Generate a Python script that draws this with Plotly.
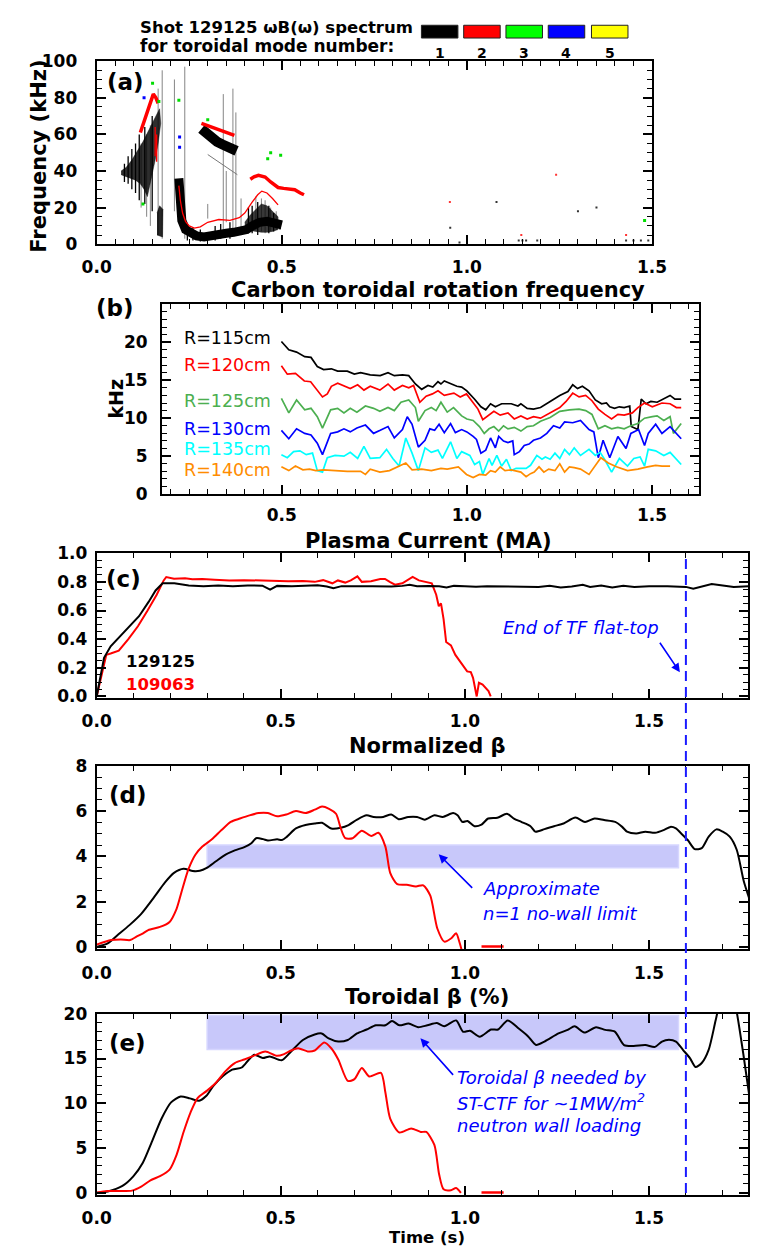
import plotly.graph_objects as go

W, H = 765, 1257
def px(x): return x / W
def py(y): return 1 - y / H

# ---------------- DATA ----------------
# (a) spectrogram features (time s, frequency kHz)
a_fan_t = [0.066, 0.08, 0.095, 0.11, 0.125, 0.14, 0.152, 0.162, 0.170, 0.173, 0.166, 0.158, 0.150, 0.143, 0.137, 0.128, 0.118, 0.105, 0.09, 0.075, 0.066]
a_fan_f = [40, 42, 46, 51, 56, 62, 67, 71, 74, 66, 55, 46, 38, 30, 26, 30, 33, 35, 36, 37, 38]
a_blob_t = [0.163, 0.178, 0.179, 0.170, 0.163]
a_blob_f = [5, 4, 19, 21, 17]
a_low_t = [0.222, 0.225, 0.23, 0.24, 0.255, 0.27, 0.29, 0.31, 0.33, 0.35, 0.37, 0.39, 0.405, 0.42, 0.44, 0.46, 0.48, 0.50]
a_low_f = [36, 22, 13, 8, 6, 4.5, 4, 4.3, 5.2, 6, 6.5, 7, 8, 10, 12, 12.5, 11.5, 10.5]
a_fuzz_t = [0.40, 0.415, 0.43, 0.445, 0.46, 0.475, 0.49, 0.49, 0.475, 0.46, 0.445, 0.43, 0.415, 0.40]
a_fuzz_f = [12, 16, 19, 22, 21, 18, 15, 8, 7, 6.5, 6.5, 7, 7.5, 8]
a_up_t = [0.283, 0.295, 0.31, 0.325, 0.34, 0.355, 0.37, 0.378]
a_up_f = [63, 60.5, 58, 56, 54.5, 53, 51.5, 51]
a_faint_t = [0.30, 0.33, 0.36, 0.38]
a_faint_f = [49, 45, 41, 38]
a_spike_t = [0.120, 0.135, 0.145, 0.166, 0.177, 0.21, 0.238, 0.30, 0.342, 0.35, 0.368, 0.376, 0.39, 0.43, 0.445, 0.455, 0.47, 0.485]
a_spike_lo = [20, 15, 10, 5, 3, 18, 3, 14, 8, 12, 6, 8, 5, 8, 7, 6, 7, 8]
a_spike_hi = [55, 60, 65, 85, 95, 90, 97, 22, 82, 40, 85, 72, 25, 26, 25, 24, 20, 18]
a_streak_t = [0.075, 0.085, 0.095, 0.105, 0.115, 0.13, 0.15, 0.245, 0.26, 0.28, 0.32, 0.335, 0.36, 0.41, 0.42, 0.435, 0.465, 0.478, 0.495]
a_streak_lo = [34, 33, 30, 28, 24, 22, 18, 2, 2, 1.5, 2, 3, 3, 6, 6, 5, 6, 7, 8]
a_streak_hi = [44, 48, 52, 55, 60, 64, 70, 10, 9, 8, 10, 11, 12, 20, 21, 23, 21, 17, 13]
a_red1_t = [0.118, 0.128, 0.138, 0.146, 0.153, 0.16, 0.166]
a_red1_f = [61, 67, 74, 79, 82, 80, 77]
a_red2_t = [0.283, 0.30, 0.32, 0.34, 0.355, 0.372]
a_red2_f = [66, 64.8, 63.5, 62, 61, 59.5]
a_red3_t = [0.222, 0.226, 0.232, 0.24, 0.25, 0.264, 0.28, 0.30, 0.33, 0.36, 0.385, 0.40, 0.42, 0.435, 0.446, 0.46, 0.475, 0.49]
a_red3_f = [32, 24, 17, 12.5, 10, 8.8, 9.5, 12, 13.5, 13, 14.5, 17, 23, 27, 29, 28, 25, 21.5]
a_red4_t = [0.415, 0.425, 0.437, 0.455, 0.47, 0.49, 0.505, 0.52, 0.535, 0.55, 0.56]
a_red4_f = [35.5, 36.8, 37.6, 36.7, 34, 31, 30.5, 30.2, 29.8, 28, 27]
a_redspike_t = [0.158, 0.162]
a_redspike_lo = [48, 45]
a_redspike_hi = [64, 60]
a_green_t = [0.151, 0.168, 0.125, 0.222, 0.462, 0.47, 0.497, 0.30, 1.48]
a_green_f = [88, 78, 22, 78.6, 46.7, 50, 48.6, 68, 13]
a_blue_t = [0.128, 0.224, 0.224]
a_blue_f = [80, 58.6, 53]
a_speck_t = [0.955, 0.98, 1.14, 1.15, 1.16, 1.19, 1.43, 1.45, 1.47, 1.49, 1.30, 1.35, 1.08]
a_speck_f = [9, 1, 2, 2, 2, 2, 2, 2, 2, 2, 18, 20, 23]
a_rspeck_t = [0.954, 1.147, 1.241, 1.43]
a_rspeck_f = [23, 5, 38, 5]

# (b) carbon toroidal rotation frequency (time s, kHz)
b_labels = ["R=115cm", "R=120cm", "R=125cm", "R=130cm", "R=135cm", "R=140cm"]
b_r115 = [(0.499,20.1),(0.519,19.0),(0.54,18.7),(0.562,18.1),(0.579,18.0),(0.596,16.8),(0.613,16.4),(0.634,16.5),(0.651,16.2),(0.677,16.2),(0.696,15.8),(0.713,16.0),(0.739,15.7),(0.766,15.6),(0.787,16.0),(0.804,15.6),(0.826,15.7),(0.843,15.6),(0.861,14.5),(0.878,13.8),(0.895,14.3),(0.908,14.1),(0.922,14.8),(0.93,14.5),(0.939,14.9),(0.956,14.5),(0.973,14.2),(0.986,14.1),(1.0,13.6),(1.021,12.5),(1.038,11.5),(1.051,11.1),(1.064,11.9),(1.077,11.5),(1.094,11.9),(1.12,11.9),(1.138,11.6),(1.146,11.9),(1.163,11.3),(1.18,11.2),(1.199,11.4),(1.225,12.2),(1.251,13.0),(1.273,13.5),(1.286,14.4),(1.299,13.9),(1.312,14.2),(1.33,13.6),(1.347,12.4),(1.364,11.9),(1.377,12.0),(1.386,11.5),(1.399,11.3),(1.412,11.5),(1.425,11.4),(1.44,11.6),(1.444,8.9),(1.462,8.5),(1.471,12.5),(1.484,11.9),(1.497,12.2),(1.514,12.1),(1.532,12.6),(1.549,13.0),(1.562,12.5),(1.579,12.5)]
b_r120 = [(0.499,16.9),(0.515,15.8),(0.537,15.9),(0.561,14.9),(0.578,14.8),(0.593,13.8),(0.61,12.8),(0.623,13.2),(0.634,14.2),(0.651,14.6),(0.668,14.3),(0.685,13.9),(0.705,14.4),(0.722,13.7),(0.739,14.2),(0.765,13.7),(0.787,14.5),(0.804,13.7),(0.826,14.3),(0.843,14.0),(0.856,14.3),(0.873,12.1),(0.89,12.9),(0.907,13.2),(0.922,13.6),(0.939,13.0),(0.965,13.3),(0.982,12.8),(0.999,13.2),(1.012,12.3),(1.03,11.2),(1.043,9.8),(1.056,10.3),(1.073,10.9),(1.09,10.4),(1.111,10.7),(1.128,9.9),(1.146,10.3),(1.163,9.9),(1.18,10.2),(1.199,10.0),(1.225,10.7),(1.251,11.4),(1.268,12.2),(1.286,13.3),(1.303,12.8),(1.321,13.0),(1.338,12.3),(1.355,11.2),(1.373,10.5),(1.391,9.9),(1.408,10.5),(1.425,10.4),(1.447,10.7),(1.462,11.4),(1.48,12.0),(1.501,11.5),(1.527,12.0),(1.549,11.9),(1.566,11.4),(1.579,11.4)]
b_r125 = [(0.499,12.6),(0.519,10.7),(0.54,12.4),(0.562,11.1),(0.579,11.3),(0.596,10.2),(0.61,8.7),(0.632,11.1),(0.651,11.3),(0.668,10.7),(0.685,11.3),(0.703,10.8),(0.726,11.6),(0.748,11.3),(0.765,10.9),(0.787,11.4),(0.804,11.0),(0.822,12.1),(0.843,12.4),(0.861,11.4),(0.869,9.6),(0.887,11.0),(0.904,11.4),(0.917,11.0),(0.93,12.1),(0.947,10.8),(0.964,11.4),(0.986,10.3),(1.0,9.9),(1.017,9.7),(1.034,8.9),(1.047,8.0),(1.06,8.6),(1.073,8.9),(1.086,8.3),(1.099,9.0),(1.111,8.6),(1.128,8.8),(1.146,8.3),(1.163,8.9),(1.18,9.0),(1.199,9.6),(1.225,10.1),(1.251,10.9),(1.277,11.1),(1.303,11.2),(1.321,11.0),(1.338,10.5),(1.355,8.6),(1.373,9.0),(1.391,8.6),(1.408,8.8),(1.425,8.6),(1.443,9.0),(1.462,9.3),(1.48,10.0),(1.501,10.2),(1.514,10.3),(1.532,9.7),(1.549,10.2),(1.558,8.0),(1.579,9.3)]
b_r130 = [(0.499,8.4),(0.519,7.3),(0.54,8.6),(0.562,8.0),(0.579,7.8),(0.596,6.7),(0.61,5.2),(0.632,8.0),(0.651,8.2),(0.668,8.6),(0.685,8.2),(0.703,8.7),(0.726,9.1),(0.748,8.0),(0.766,8.4),(0.787,8.9),(0.804,7.4),(0.826,8.5),(0.839,10.2),(0.852,9.2),(0.869,6.2),(0.887,7.1),(0.9,8.6),(0.913,8.4),(0.925,9.2),(0.939,8.1),(0.956,9.3),(0.969,8.1),(0.986,8.5),(1.0,8.2),(1.017,7.6),(1.026,7.2),(1.038,5.4),(1.051,5.8),(1.064,7.4),(1.077,6.1),(1.086,7.6),(1.099,7.0),(1.111,6.8),(1.124,7.0),(1.128,5.2),(1.142,5.6),(1.155,6.4),(1.168,6.6),(1.18,7.1),(1.199,7.4),(1.216,8.0),(1.234,9.0),(1.251,8.7),(1.264,9.5),(1.286,9.4),(1.307,9.7),(1.33,8.5),(1.343,8.2),(1.355,4.8),(1.368,7.1),(1.386,4.8),(1.408,7.6),(1.43,6.0),(1.443,8.0),(1.464,8.5),(1.48,6.4),(1.49,8.0),(1.51,9.2),(1.527,8.0),(1.549,8.9),(1.579,7.3)]
b_r135 = [(0.499,5.2),(0.515,4.8),(0.532,5.6),(0.549,5.7),(0.566,5.2),(0.583,5.4),(0.596,3.1),(0.61,2.9),(0.623,4.8),(0.644,5.1),(0.668,5.0),(0.685,5.5),(0.705,4.7),(0.722,6.3),(0.739,4.7),(0.765,4.8),(0.783,5.9),(0.8,4.7),(0.817,3.7),(0.835,7.4),(0.852,5.4),(0.869,3.1),(0.887,6.1),(0.904,5.5),(0.922,5.8),(0.934,4.7),(0.956,6.9),(0.973,4.7),(0.986,5.6),(1.008,5.1),(1.021,3.9),(1.034,4.3),(1.043,2.6),(1.06,4.7),(1.068,3.8),(1.081,5.1),(1.094,3.7),(1.107,4.6),(1.12,3.1),(1.133,3.4),(1.146,3.4),(1.16,3.4),(1.172,3.8),(1.189,5.1),(1.203,4.6),(1.212,4.9),(1.225,4.6),(1.238,5.4),(1.251,4.7),(1.264,5.9),(1.277,5.2),(1.29,6.1),(1.307,5.1),(1.33,5.9),(1.347,5.1),(1.36,5.5),(1.373,4.5),(1.391,2.9),(1.412,4.7),(1.434,3.7),(1.451,4.7),(1.468,4.9),(1.48,3.7),(1.49,5.9),(1.51,5.7),(1.532,5.1),(1.549,5.5),(1.579,3.9)]
b_r140 = [(0.499,3.6),(0.519,3.1),(0.537,3.7),(0.557,3.2),(0.575,3.3),(0.592,3.1),(0.613,3.2),(0.644,3.1),(0.677,3.0),(0.713,3.0),(0.726,2.6),(0.739,3.3),(0.765,2.9),(0.791,3.1),(0.817,3.7),(0.835,4.1),(0.852,3.2),(0.878,3.3),(0.904,3.1),(0.93,3.4),(0.947,3.3),(0.977,3.6),(0.999,2.6),(1.017,2.2),(1.034,2.6),(1.051,2.5),(1.064,3.1),(1.077,2.9),(1.09,3.6),(1.103,3.1),(1.12,3.2),(1.146,2.9),(1.16,2.3),(1.172,2.7),(1.182,2.9),(1.195,3.6),(1.208,2.9),(1.221,3.3),(1.238,3.1),(1.251,4.0),(1.264,2.9),(1.277,3.6),(1.29,3.5),(1.307,3.3),(1.33,2.6),(1.347,3.7),(1.362,4.8),(1.382,4.1),(1.404,3.6),(1.434,3.1),(1.462,3.3),(1.488,3.6),(1.51,3.8),(1.527,3.7),(1.549,3.7)]

# (c) plasma current (MA)
c_129125 = [(0,0.0),(0.02,0.27),(0.038,0.35),(0.064,0.42),(0.089,0.49),(0.115,0.56),(0.141,0.66),(0.16,0.74),(0.179,0.79),(0.211,0.79),(0.25,0.775),(0.29,0.77),(0.33,0.775),(0.37,0.77),(0.41,0.775),(0.45,0.773),(0.471,0.745),(0.49,0.772),(0.53,0.77),(0.56,0.772),(0.6,0.776),(0.625,0.768),(0.643,0.755),(0.665,0.77),(0.7,0.772),(0.75,0.770),(0.8,0.768),(0.83,0.772),(0.85,0.78),(0.87,0.77),(0.9,0.772),(0.93,0.77),(0.95,0.76),(0.97,0.772),(1.0,0.77),(1.03,0.766),(1.06,0.77),(1.1,0.768),(1.15,0.77),(1.2,0.765),(1.23,0.772),(1.26,0.76),(1.29,0.768),(1.32,0.78),(1.34,0.765),(1.37,0.775),(1.4,0.76),(1.43,0.772),(1.46,0.765),(1.5,0.77),(1.55,0.77),(1.6,0.765),(1.62,0.752),(1.65,0.77),(1.67,0.785),(1.7,0.775),(1.73,0.765),(1.77,0.77)]
c_109063 = [(0,0.0),(0.013,0.15),(0.026,0.29),(0.038,0.30),(0.06,0.32),(0.086,0.40),(0.112,0.49),(0.137,0.595),(0.163,0.71),(0.182,0.81),(0.189,0.834),(0.21,0.822),(0.24,0.826),(0.26,0.818),(0.287,0.82),(0.32,0.815),(0.36,0.81),(0.4,0.812),(0.44,0.808),(0.48,0.806),(0.52,0.805),(0.56,0.806),(0.592,0.80),(0.615,0.812),(0.64,0.79),(0.655,0.81),(0.675,0.795),(0.69,0.81),(0.708,0.838),(0.72,0.80),(0.745,0.805),(0.77,0.82),(0.783,0.82),(0.797,0.798),(0.81,0.78),(0.83,0.79),(0.858,0.834),(0.875,0.81),(0.89,0.80),(0.91,0.79),(0.922,0.71),(0.929,0.63),(0.935,0.65),(0.942,0.54),(0.949,0.38),(0.962,0.357),(0.974,0.29),(0.993,0.22),(1.006,0.175),(1.016,0.17),(1.022,0.13),(1.032,0.0),(1.038,0.095),(1.048,0.083),(1.064,0.038),(1.07,0.0)]

# (d) normalized beta
d_129125 = [(0,0.0),(0.03,0.15),(0.057,0.52),(0.089,0.96),(0.121,1.46),(0.159,2.26),(0.185,2.84),(0.21,3.27),(0.236,3.45),(0.261,3.35),(0.28,3.36),(0.299,3.49),(0.324,3.78),(0.35,4.07),(0.375,4.26),(0.401,4.41),(0.42,4.58),(0.433,4.80),(0.452,4.76),(0.465,4.70),(0.49,4.75),(0.503,4.72),(0.516,4.86),(0.541,5.23),(0.567,5.38),(0.592,5.45),(0.612,5.48),(0.637,5.23),(0.663,5.26),(0.684,5.38),(0.707,5.62),(0.733,5.81),(0.752,5.74),(0.778,5.74),(0.8,5.85),(0.82,5.64),(0.846,5.74),(0.87,5.74),(0.891,5.62),(0.917,5.81),(0.94,5.74),(0.968,5.91),(0.98,5.81),(0.993,5.52),(1.007,5.56),(1.026,5.33),(1.045,5.4),(1.063,5.67),(1.088,5.70),(1.114,5.88),(1.133,5.67),(1.153,5.52),(1.178,5.33),(1.191,5.09),(1.216,5.2),(1.242,5.33),(1.268,5.45),(1.3,5.71),(1.326,5.52),(1.352,5.67),(1.378,5.6),(1.408,5.52),(1.427,5.3),(1.44,5.09),(1.465,5.01),(1.49,5.09),(1.516,5.04),(1.541,5.17),(1.558,5.3),(1.573,5.23),(1.586,5.03),(1.605,4.72),(1.624,4.32),(1.643,4.36),(1.662,4.87),(1.683,5.19),(1.7,5.09),(1.719,4.87),(1.738,4.29),(1.757,2.91),(1.774,2.04)]
d_109063 = [(0,0.1),(0.039,0.3),(0.065,0.33),(0.091,0.3),(0.108,0.45),(0.126,0.6),(0.14,0.74),(0.172,0.88),(0.198,1.10),(0.217,1.68),(0.23,2.40),(0.249,3.42),(0.268,4.07),(0.287,4.43),(0.313,4.75),(0.339,5.16),(0.364,5.52),(0.389,5.67),(0.415,5.81),(0.44,5.91),(0.465,5.91),(0.49,5.77),(0.515,5.85),(0.541,6.0),(0.567,5.91),(0.592,6.06),(0.612,6.20),(0.631,6.1),(0.65,5.88),(0.663,5.23),(0.675,4.80),(0.695,4.80),(0.72,5.13),(0.746,4.90),(0.765,5.04),(0.784,4.43),(0.797,3.27),(0.816,2.77),(0.842,2.74),(0.867,2.67),(0.887,2.72),(0.906,2.26),(0.925,0.81),(0.944,0.23),(0.963,0.38),(0.976,0.6),(0.986,0.16),(0.992,-0.2)]
d_109063_tail = [(1.045,0.02),(1.105,0.02)]
d_limit = (3.5, 4.5)

# (e) toroidal beta (%)
e_129125 = [(0,0.0),(0.03,0.15),(0.07,0.77),(0.1,1.87),(0.125,3.33),(0.15,5.71),(0.176,8.28),(0.202,10.1),(0.228,10.77),(0.253,10.55),(0.278,10.29),(0.298,10.84),(0.317,11.94),(0.343,13.04),(0.368,13.77),(0.394,14.0),(0.413,14.87),(0.428,15.42),(0.451,15.05),(0.47,15.24),(0.502,14.8),(0.528,15.79),(0.56,17.07),(0.592,17.69),(0.611,17.8),(0.63,17.25),(0.656,16.9),(0.682,17.07),(0.707,17.8),(0.733,18.24),(0.758,18.71),(0.784,18.71),(0.802,19.19),(0.822,18.71),(0.847,18.9),(0.873,18.5),(0.898,18.71),(0.924,18.96),(0.944,18.6),(0.976,19.26),(0.995,17.99),(1.014,18.1),(1.04,17.44),(1.071,18.24),(1.09,18.24),(1.116,19.26),(1.146,18.35),(1.171,17.5),(1.193,16.52),(1.216,16.9),(1.254,17.8),(1.279,18.2),(1.298,18.6),(1.324,17.9),(1.356,18.5),(1.381,18.2),(1.407,18.0),(1.432,16.5),(1.458,16.4),(1.49,16.5),(1.516,16.3),(1.535,16.9),(1.554,17.1),(1.573,16.9),(1.592,15.97),(1.611,15.05),(1.626,14.06),(1.643,14.5),(1.662,16.0),(1.681,19.3),(1.7,22.5),(1.72,23.5),(1.738,20.2),(1.757,15.2),(1.774,10.3)]
e_109063 = [(0,0.0),(0.03,0.2),(0.096,0.25),(0.121,0.7),(0.146,1.4),(0.172,1.87),(0.198,2.6),(0.217,4.25),(0.236,6.8),(0.255,9.0),(0.274,10.59),(0.299,11.39),(0.324,12.3),(0.35,13.6),(0.375,14.5),(0.401,14.9),(0.426,15.3),(0.458,15.8),(0.49,15.3),(0.509,15.5),(0.528,15.9),(0.547,16.15),(0.573,15.8),(0.592,15.9),(0.618,16.8),(0.637,16.15),(0.656,14.9),(0.682,12.5),(0.7,12.7),(0.72,13.95),(0.74,13.0),(0.772,13.4),(0.784,11.2),(0.797,8.3),(0.822,6.74),(0.854,7.2),(0.88,6.8),(0.895,6.8),(0.917,5.35),(0.93,2.05),(0.942,0.4),(0.962,0.3),(0.976,0.55),(0.989,0.0)]
e_109063_tail = [(1.045,0.05),(1.105,0.05)]
e_needed = (16.0, 19.8)

band_t = (0.30, 1.58)
tf_end = 1.6
mode_colors = ["#000000", "#ff0000", "#00ff00", "#0000ff", "#ffff00"]
mode_numbers = ["1", "2", "3", "4", "5"]
b_colors = ["#000000", "#ff0000", "#4caf50", "#0000ff", "#00ffff", "#ff8c00"]

# ---------------- FIGURE ----------------
fig = go.Figure()

def unz(p):
    return [a for a, b in p], [b for a, b in p]

def line(x, y, xa, ya, color, width, shape="linear", smooth=None):
    ln = dict(color=color, width=width, shape=shape)
    if smooth is not None:
        ln["smoothing"] = smooth
    fig.add_trace(go.Scatter(x=x, y=y, xaxis=xa, yaxis=ya, mode="lines", line=ln,
                             hoverinfo="skip", showlegend=False))

def poly(x, y, xa, ya, color):
    fig.add_trace(go.Scatter(x=x, y=y, xaxis=xa, yaxis=ya, mode="lines", fill="toself",
                             fillcolor=color, line=dict(color=color, width=0.5),
                             hoverinfo="skip", showlegend=False))

def spikes(ts, lo, hi, xa, ya, color, width):
    xs, ys = [], []
    for t, a, b in zip(ts, lo, hi):
        xs += [t, t, None]
        ys += [a, b, None]
    line(xs, ys, xa, ya, color, width)

def dots(x, y, xa, ya, color, size):
    fig.add_trace(go.Scatter(x=x, y=y, xaxis=xa, yaxis=ya, mode="markers",
                             marker=dict(color=color, size=size, symbol="square", line=dict(width=0)),
                             hoverinfo="skip", showlegend=False))

# (a)
spikes(a_spike_t, a_spike_lo, a_spike_hi, "x", "y", "#777777", 0.9)
poly(a_fan_t, a_fan_f, "x", "y", "rgba(0,0,0,0.82)")
spikes(a_streak_t, a_streak_lo, a_streak_hi, "x", "y", "#000000", 1.3)
poly(a_blob_t, a_blob_f, "x", "y", "rgba(0,0,0,0.85)")
poly(a_fuzz_t, a_fuzz_f, "x", "y", "rgba(0,0,0,0.78)")
line(a_faint_t, a_faint_f, "x", "y", "#777777", 1.0)
line(a_low_t, a_low_f, "x", "y", "#000000", 9)
line(a_up_t, a_up_f, "x", "y", "#000000", 10)
line(a_red3_t, a_red3_f, "x", "y", "#ff0000", 1.3)
line(a_red1_t, a_red1_f, "x", "y", "#ff0000", 3.5)
line(a_red2_t, a_red2_f, "x", "y", "#ff0000", 3.5)
line(a_red4_t, a_red4_f, "x", "y", "#ff0000", 3.5)
spikes(a_redspike_t, a_redspike_lo, a_redspike_hi, "x", "y", "#ff0000", 1.3)
dots(a_green_t, a_green_f, "x", "y", "#00dd00", 3)
dots(a_blue_t, a_blue_f, "x", "y", "#0000ff", 3)
dots(a_speck_t, a_speck_f, "x", "y", "#333333", 2)
dots(a_rspeck_t, a_rspeck_f, "x", "y", "#ff3333", 2)

# (b)
for ser, col in zip([b_r115, b_r120, b_r125, b_r130, b_r135, b_r140], b_colors):
    t, v = unz(ser)
    line(t, v, "x2", "y2", col, 1.7)

# (c)
t, v = unz(c_109063); line(t, v, "x3", "y3", "#ff0000", 2)
t, v = unz(c_129125); line(t, v, "x3", "y3", "#000000", 2)

# (d)
t, v = unz(d_129125); line(t, v, "x4", "y4", "#000000", 2, "spline", 0.7)
t, v = unz(d_109063); line(t, v, "x4", "y4", "#ff0000", 2, "spline", 0.7)
t, v = unz(d_109063_tail); line(t, v, "x4", "y4", "#ff0000", 2.5)

# (e)
t, v = unz(e_129125); line(t, v, "x5", "y5", "#000000", 2, "spline", 0.7)
t, v = unz(e_109063); line(t, v, "x5", "y5", "#ff0000", 2, "spline", 0.7)
t, v = unz(e_109063_tail); line(t, v, "x5", "y5", "#ff0000", 2.5)

# ---------------- AXES ----------------
TICKFONT = dict(family="DejaVu Sans", size=17, color="black", weight="bold")

def ax(dom, rng, dtick, minor, fmt, standoff, anchor, tickvals=None):
    d = dict(domain=dom, range=rng, anchor=anchor, showline=True, linecolor="black", linewidth=2,
             mirror="ticks", ticks="inside", ticklen=9, tickwidth=1.5, tickcolor="black",
             tick0=0, dtick=dtick, tickformat=fmt,
             minor=dict(ticks="inside", ticklen=5, tickwidth=1.2, tickcolor="black", dtick=minor, tick0=0),
             showgrid=False, zeroline=False, tickfont=TICKFONT, ticklabelstandoff=standoff,
             fixedrange=True)
    if tickvals is not None:
        d["tickmode"] = "array"
        d["tickvals"] = tickvals
    return d

xr_full = [0, (763 - 85) / 383.3]
layout = dict(
    xaxis=ax([px(85), px(663)], [0, 1.5], 0.5, 0.05, ".1f", 6, "y"),
    yaxis=ax([py(238), py(52)], [0, 100], 20, 5, "d", 14, "x"),
    xaxis2=ax([px(153), px(712)], [(153 - 85) / 385.3, (712 - 85) / 385.3], 0.5, 0.05, ".1f", 4, "y2"),
    yaxis2=ax([py(492), py(299)], [0, 25], 5, 1, "d", 9, "x2", tickvals=[0, 5, 10, 15, 20]),
    xaxis3=ax([px(85), px(763)], xr_full, 0.5, 0.1, ".1f", 7, "y3"),
    yaxis3=ax([py(699), py(552)], [-0.01, 1.0], 0.2, 0.05, ".1f", 4, "x3"),
    xaxis4=ax([px(85), px(763)], xr_full, 0.5, 0.1, ".1f", 7, "y4"),
    yaxis4=ax([py(954.3), py(768)], [-0.1, 8.0], 2, 0.5, "d", 4, "x4"),
    xaxis5=ax([px(85), px(763)], xr_full, 0.5, 0.1, ".1f", 7, "y5"),
    yaxis5=ax([py(1203.8), py(1020)], [-0.2, 20.0], 5, 1, "d", 4, "x5"),
)

shapes = []
shapes.append(dict(type="rect", xref="x4", yref="y4", x0=band_t[0], x1=band_t[1], y0=d_limit[0], y1=d_limit[1],
                   fillcolor="rgb(200,200,250)", line=dict(color="rgb(214,214,255)", width=1.5), layer="below"))
shapes.append(dict(type="rect", xref="x5", yref="y5", x0=band_t[0], x1=band_t[1], y0=e_needed[0], y1=e_needed[1],
                   fillcolor="rgb(200,200,250)", line=dict(color="rgb(214,214,255)", width=1.5), layer="below"))
shapes.append(dict(type="line", xref="x3", yref="paper", x0=tf_end, x1=tf_end, y0=py(1202), y1=py(556),
                   line=dict(color="#1a1aff", width=2, dash="10px,6px"), layer="above"))
box_x = [423, 467, 511, 555, 600]
for bx, col in zip(box_x, mode_colors):
    shapes.append(dict(type="rect", xref="paper", yref="paper", x0=px(bx), x1=px(bx + 38), y0=py(28.5), y1=py(15.5),
                       fillcolor=col, line=dict(color="#222222", width=1)))

ann = []
def text(s, x, y, size, color="black", bold=True, italic=False, xanchor="center", angle=0, family="DejaVu Sans"):
    f = dict(family=family, size=size, color=color)
    if bold:
        f["weight"] = "bold"
    if italic:
        f["style"] = "italic"
    ann.append(dict(text=s, x=px(x), y=py(y), xref="paper", yref="paper", xanchor=xanchor, yanchor="middle",
                    showarrow=False, font=f, textangle=angle))

text("Shot 129125 \u03c9B(\u03c9) spectrum", 128, 18, 16.5, xanchor="left")
text("for toroidal mode number:", 128, 36.5, 17, xanchor="left")
for bx, n in zip(box_x, mode_numbers):
    text(n, bx + 19, 43.5, 14)

text("(a)", 115, 73, 23)
text("Frequency (kHz)", 25, 149, 21, angle=-90)
text("Carbon toroidal rotation frequency", 440, 285, 21)
text("(b)", 104, 303, 23)
text("kHz", 105, 395, 19, angle=-90)
lab_y = [333, 361, 397, 426, 446, 467]
for s, yy, col in zip(b_labels, lab_y, b_colors):
    text(s, 174, yy, 17.5, color=col, bold=False, xanchor="left")
text("Plasma Current (MA)", 430, 540, 21)
text("(c)", 113, 578, 23)
text("129125", 151, 662, 16.5)
text("109063", 151, 685, 16.5, color="#ff0000")
text("End of TF flat-top", 589, 627, 18, color="#0000ff", bold=False, italic=True)
text("Normalized \u03b2", 429, 748, 21)
text("(d)", 118, 798, 23)
text("Approximate", 485, 893, 18, color="#0000ff", bold=False, italic=True, xanchor="left")
text("n=1 no-wall limit", 485, 918, 18, color="#0000ff", bold=False, italic=True, xanchor="left")
text("Toroidal \u03b2 (%)", 429, 1003, 21)
text("(e)", 117, 1050, 23)
text("Toroidal \u03b2 needed by", 458, 1085, 18, color="#0000ff", bold=False, italic=True, xanchor="left")
text("ST-CTF for ~1MW/m<sup>2</sup>", 458, 1110, 18, color="#0000ff", bold=False, italic=True, xanchor="left")
text("neutron wall loading", 458, 1134, 18, color="#0000ff", bold=False, italic=True, xanchor="left")
text("Time (s)", 429, 1247, 16.5)

def arrow(hx, hy, tx, ty):
    ann.append(dict(x=px(hx), y=py(hy), xref="paper", yref="paper", ax=tx - hx, ay=ty - hy,
                    showarrow=True, arrowhead=2, arrowsize=1.1, arrowwidth=1.6, arrowcolor="#0000ff", text=""))

arrow(692, 673, 671, 642)
arrow(441, 858, 476, 893)
arrow(422, 1045, 456, 1083)

fig.update_layout(**layout)
fig.update_layout(width=W, height=H, autosize=False, margin=dict(l=0, r=0, t=0, b=0),
                  paper_bgcolor="white", plot_bgcolor="white", shapes=shapes, annotations=ann,
                  showlegend=False)
fig.write_html("out.html")
